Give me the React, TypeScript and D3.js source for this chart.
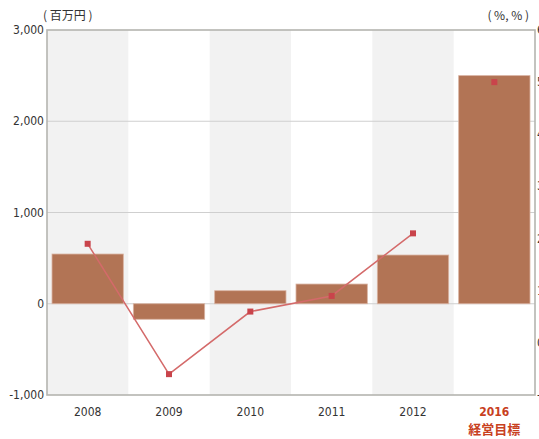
import React, { useEffect, useRef } from 'react';
import * as d3 from 'd3';

// 年度
const years = ['2008', '2009', '2010', '2011', '2012', '2016'];
// 棒 (百万円)
const barValues = [545, -170, 143, 216, 534, 2500];
// 折れ線 (%)
const lineValues = [1.9, -0.6, 0.6, 0.9, 2.1, 5.0];
const leftTicks = [-1000, 0, 1000, 2000, 3000];
const rightTicks = [-1, 0, 1, 2, 3, 4, 5, 6];

const W = 539;
const H = 439;
const m = { top: 30, right: 4, bottom: 44, left: 47 };

export default function App() {
  const svgRef = useRef<SVGSVGElement>(null);

  useEffect(() => {
    const svg = d3.select(svgRef.current);
    svg.selectAll('*').remove();

    const x = d3.scaleBand().domain(years).range([m.left, W - m.right]);
    const y = d3.scaleLinear().domain([-1000, 3000]).range([H - m.bottom, m.top]);
    const y2 = d3.scaleLinear().domain([-1, 6]).range([H - m.bottom, m.top]);

    const font = "'Liberation Sans Narrow', 'DejaVu Sans Condensed', sans-serif";

    // 背景の縞
    svg.append('g')
      .selectAll('rect')
      .data(years.filter((d, i) => i % 2 === 0))
      .enter()
      .append('rect')
      .attr('x', d => x(d)!)
      .attr('y', m.top)
      .attr('width', x.bandwidth())
      .attr('height', H - m.bottom - m.top)
      .attr('fill', '#f2f2f2');

    // グリッド
    svg.append('g')
      .selectAll('line')
      .data(leftTicks.filter(d => d > -1000 && d < 3000))
      .enter()
      .append('line')
      .attr('x1', m.left)
      .attr('x2', W - m.right)
      .attr('y1', d => y(d))
      .attr('y2', d => y(d))
      .attr('stroke', '#cfcfcf')
      .attr('stroke-width', 1.2);

    // 棒
    const pad = 5;
    svg.append('g')
      .selectAll('rect')
      .data(barValues)
      .enter()
      .append('rect')
      .attr('x', (d, i) => x(years[i])! + pad)
      .attr('y', d => y(Math.max(0, d)))
      .attr('width', x.bandwidth() - pad * 2)
      .attr('height', d => Math.abs(y(d) - y(0)))
      .attr('fill', '#b27455')
      .attr('stroke', '#d9b3a2')
      .attr('stroke-width', 0.8);

    // 折れ線
    const line = d3.line<number>()
      .x((d, i) => x(years[i])! + x.bandwidth() / 2)
      .y(d => y2(d));

    svg.append('path')
      .datum(lineValues.slice(0, 5))
      .attr('d', line)
      .attr('fill', 'none')
      .attr('stroke', '#d46a6a')
      .attr('stroke-width', 1.5);

    svg.append('g')
      .selectAll('rect')
      .data(lineValues)
      .enter()
      .append('rect')
      .attr('x', (d, i) => x(years[i])! + x.bandwidth() / 2 - 3)
      .attr('y', d => y2(d) - 3)
      .attr('width', 6)
      .attr('height', 6)
      .attr('fill', '#c9444b');

    // 枠
    svg.append('rect')
      .attr('x', m.left)
      .attr('y', m.top)
      .attr('width', W - m.right - m.left)
      .attr('height', H - m.bottom - m.top)
      .attr('fill', 'none')
      .attr('stroke', '#b5b5b0')
      .attr('stroke-width', 1.6);

    // 左軸ラベル
    svg.append('g')
      .selectAll('text')
      .data(leftTicks)
      .enter()
      .append('text')
      .attr('x', m.left - 3)
      .attr('y', d => y(d) + 4)
      .attr('text-anchor', 'end')
      .attr('font-family', font)
      .attr('font-size', 12)
      .attr('fill', '#333')
      .text(d => d3.format(',')(d).replace('−', '-'));

    // 右軸ラベル (はみ出し)
    svg.append('g')
      .selectAll('text')
      .data(rightTicks)
      .enter()
      .append('text')
      .attr('x', W - 2)
      .attr('y', d => y2(d) + 4)
      .attr('font-family', font)
      .attr('font-size', 12)
      .attr('fill', '#333')
      .text(d => String(d));

    // x軸ラベル
    svg.append('g')
      .selectAll('text')
      .data(years)
      .enter()
      .append('text')
      .attr('x', d => x(d)! + x.bandwidth() / 2)
      .attr('y', H - m.bottom + 21)
      .attr('text-anchor', 'middle')
      .attr('font-family', font)
      .attr('font-size', 12)
      .attr('font-weight', d => (d === '2016' ? 'bold' : 'normal'))
      .attr('fill', d => (d === '2016' ? '#c8401e' : '#333'))
      .text(d => d);

    svg.append('text')
      .attr('x', x('2016')! + x.bandwidth() / 2)
      .attr('y', H - m.bottom + 39)
      .attr('text-anchor', 'middle')
      .attr('font-family', "'Noto Sans CJK JP', sans-serif")
      .attr('font-size', 13)
      .attr('font-weight', 'bold')
      .attr('fill', '#c8401e')
      .text('経営目標');

    // 単位
    svg.append('text')
      .attr('x', 43)
      .attr('y', 20)
      .attr('font-family', "'Noto Sans CJK JP', sans-serif")
      .attr('font-size', 12)
      .attr('fill', '#333')
      .text('( 百万円 )');

    svg.append('text')
      .attr('x', 529)
      .attr('y', 20)
      .attr('text-anchor', 'end')
      .attr('font-family', "'Noto Sans CJK JP', sans-serif")
      .attr('font-size', 12)
      .attr('fill', '#333')
      .text('( %, % )');
  }, []);

  return (
    <div style={{ position: 'absolute', left: 0, top: 0 }}>
      <svg ref={svgRef} width={W} height={H} style={{ display: 'block', background: '#fff' }}></svg>
    </div>
  );
}
